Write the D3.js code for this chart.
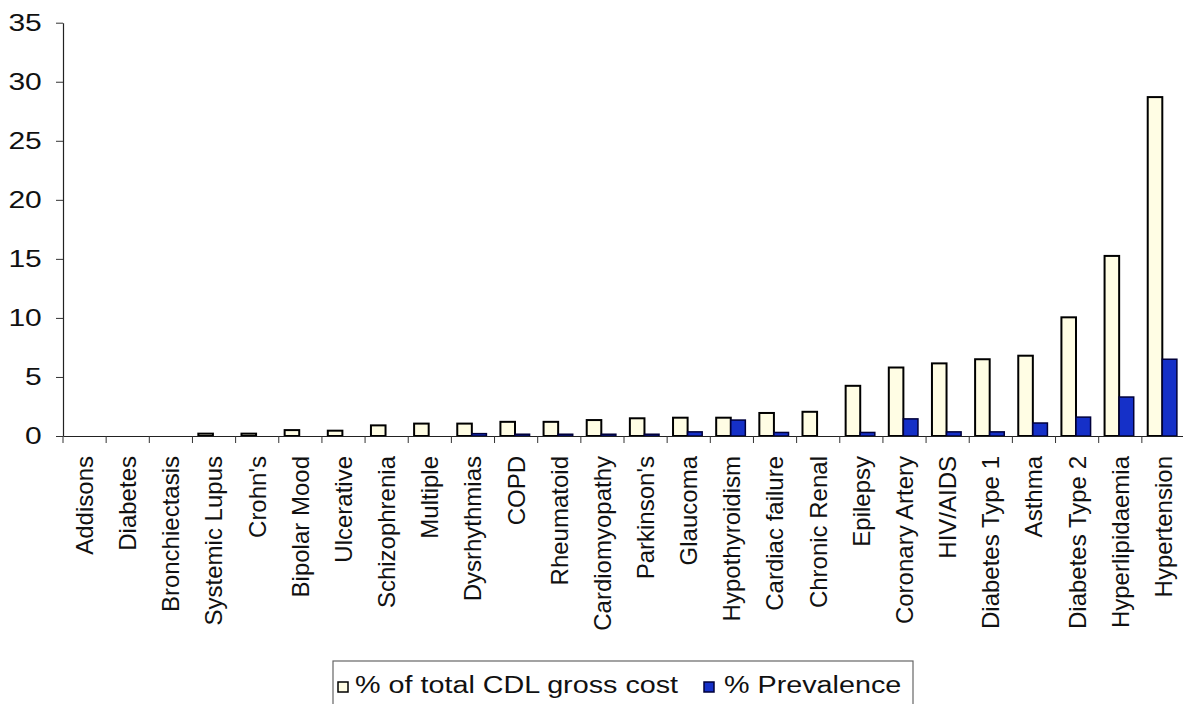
<!DOCTYPE html>
<html>
<head>
<meta charset="utf-8">
<script src="https://cdn.jsdelivr.net/npm/d3@7"></script>
<style>
  html, body { margin: 0; padding: 0; background: #fff; }
  svg { display: block; }
  text { font-family: "Liberation Sans", Arial, Helvetica, sans-serif; fill: #111; }
</style>
</head>
<body>
<svg id="chart" width="1183" height="704"></svg>
<script>
// Chronic disease list conditions, ordered by share of gross cost
const categories = [
  "Addisons", "Diabetes", "Bronchiectasis", "Systemic Lupus", "Crohn's",
  "Bipolar Mood", "Ulcerative", "Schizophrenia", "Multiple", "Dysrhythmias",
  "COPD", "Rheumatoid", "Cardiomyopathy", "Parkinson's", "Glaucoma",
  "Hypothyroidism", "Cardiac failure", "Chronic Renal", "Epilepsy", "Coronary Artery",
  "HIV/AIDS", "Diabetes Type 1", "Asthma", "Diabetes Type 2", "Hyperlipidaemia",
  "Hypertension"
];

// % of total CDL gross cost
const costShare = [
  0, 0, 0, 0.2, 0.2,
  0.5, 0.45, 0.9, 1.05, 1.05,
  1.2, 1.2, 1.35, 1.5, 1.55,
  1.55, 1.95, 2.05, 4.25, 5.8,
  6.15, 6.5, 6.8, 10.05, 15.25,
  28.7
];

// % prevalence
const prevalence = [
  0, 0, 0, 0, 0,
  0, 0, 0, 0, 0.2,
  0.15, 0.15, 0.15, 0.15, 0.35,
  1.35, 0.3, 0, 0.3, 1.45,
  0.35, 0.35, 1.1, 1.6, 3.3,
  6.5
];

const seriesNames = ["% of total CDL gross cost", "% Prevalence"];
const yTicks = [0, 5, 10, 15, 20, 25, 30, 35];

const svg = d3.select("#chart");

const plot = { left: 63, right: 1185, top: 22.7, bottom: 436 };

const x0 = d3.scaleBand()
  .domain(categories)
  .range([plot.left, plot.right])
  .padding(0);

const x1 = d3.scaleBand()
  .domain(["cost", "prev"])
  .range([0, x0.bandwidth()])
  .paddingInner(0)
  .paddingOuter(0.48)
  .align(0.42);

const y = d3.scaleLinear()
  .domain([0, 35])
  .range([plot.bottom, plot.top]);

const colors = {
  cost: { fill: "#fffde4", stroke: "#000000", width: 2 },
  prev: { fill: "#1530c8", stroke: "#00003a", width: 1.5 }
};

const rows = categories.map((c, i) => ({ cat: c, cost: costShare[i], prev: prevalence[i] }));

// bars
const groups = svg.append("g")
  .selectAll("g")
  .data(rows)
  .join("g")
  .attr("transform", d => `translate(${x0(d.cat)},0)`);

groups.selectAll("rect")
  .data(d => ["cost", "prev"].map(k => ({ key: k, value: d[k] })).filter(e => e.value > 0))
  .join("rect")
  .attr("x", d => x1(d.key))
  .attr("width", x1.bandwidth())
  .attr("y", d => y(d.value))
  .attr("height", d => y(0) - y(d.value))
  .attr("fill", d => colors[d.key].fill)
  .attr("stroke", d => colors[d.key].stroke)
  .attr("stroke-width", d => colors[d.key].width);

// y axis
const yAxis = svg.append("g")
  .attr("transform", `translate(${plot.left},0)`)
  .call(d3.axisLeft(y).tickValues(yTicks).tickSize(7).tickSizeOuter(0).tickFormat(d3.format("d")));
yAxis.select(".domain").attr("stroke", "#222").attr("stroke-width", 1.2);
yAxis.selectAll(".tick line").attr("stroke", "#333");
yAxis.selectAll(".tick text")
  .attr("font-size", 24)
  .attr("x", -17)
  .attr("transform", "scale(1.25,1)")
  .style("fill", "#111");

// x axis with category labels
const xAxis = svg.append("g")
  .attr("transform", `translate(0,${plot.bottom})`)
  .call(d3.axisBottom(x0).tickSize(0).tickSizeOuter(0));
xAxis.select(".domain").attr("stroke", "#222").attr("stroke-width", 1.2);
xAxis.selectAll(".tick text")
  .attr("font-size", 24)
  .attr("text-anchor", "end")
  .attr("x", -20)
  .attr("y", 0)
  .attr("dy", "0.35em")
  .attr("transform", "rotate(-90)")
  .style("fill", "#111");

// boundary tick marks between categories
const boundaries = categories.map(c => x0(c)).concat([plot.right]);
xAxis.append("g")
  .selectAll("line")
  .data(boundaries)
  .join("line")
  .attr("x1", d => d).attr("x2", d => d)
  .attr("y1", 0).attr("y2", 7)
  .attr("stroke", "#333")
  .attr("stroke-width", 1);

// legend
const legend = svg.append("g");
legend.append("rect")
  .attr("x", 333).attr("y", 661)
  .attr("width", 580).attr("height", 44)
  .attr("fill", "#fff")
  .attr("stroke", "#666")
  .attr("stroke-width", 1.2);

const legendItems = [
  { key: "cost", name: seriesNames[0], sx: 338, tx: 355 },
  { key: "prev", name: seriesNames[1], sx: 704, tx: 724 }
];
const li = legend.selectAll("g.item")
  .data(legendItems)
  .join("g")
  .attr("class", "item");
li.append("rect")
  .attr("x", d => d.sx).attr("y", 682)
  .attr("width", 10).attr("height", 10)
  .attr("fill", d => colors[d.key].fill)
  .attr("stroke", d => d.key === "cost" ? "#000" : "#00003a")
  .attr("stroke-width", 1.5);
li.append("text")
  .attr("transform", d => `translate(${d.tx},693) scale(1.25,1)`)
  .attr("font-size", 23)
  .text(d => d.name);
</script>
</body>
</html>
